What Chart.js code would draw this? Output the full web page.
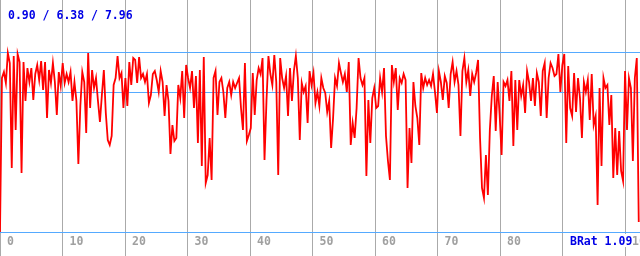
<!DOCTYPE html>
<html>
<head>
<meta charset="utf-8">
<script src="https://cdn.jsdelivr.net/npm/chart.js@4.4.1/dist/chart.umd.min.js"></script>
<style>
  html, body { margin: 0; padding: 0; background: #fff; }
  #wrap { width: 640px; height: 256px; }
</style>
</head>
<body>
<div id="wrap"><canvas id="ratioChart" width="640" height="256"></canvas></div>
<script>
// readings, left to right
const segA = [0, 7.7, 8.0, 7.45, 8.95, 8.45, 3.2, 8.8, 5.1, 8.9, 8.5, 2.95, 8.5, 6.55, 8.2, 7.5,
  8.2, 6.6, 7.9, 8.35, 7.6, 8.55, 7.1, 8.5, 5.7, 8.1, 7.45, 8.45, 7.5, 5.85, 8.0, 7.3,
  8.45, 7.45, 7.9, 7.5, 8.0, 6.55, 7.5, 6.55, 3.4, 6.3, 8.0, 7.5, 4.95, 8.95, 6.2, 8.1,
  7.2, 7.7, 6.55, 5.5, 6.85, 8.1, 5.95, 4.6, 4.35, 4.8, 7.35, 7.7, 8.8, 7.7, 7.95, 6.2];
const segB = [7.7, 6.3, 8.5, 7.35, 8.7, 8.6, 7.45, 8.75, 7.7, 7.9, 7.5, 7.9, 6.45, 6.85, 7.9, 8.05,
  7.6, 7.0, 8.05, 7.5, 5.8, 7.35, 6.55, 3.9, 5.35, 4.55, 4.7, 7.35, 6.7, 8.05, 5.7, 8.35,
  7.7, 7.2, 8.05, 6.2, 7.8, 4.45, 8.1, 3.3, 8.75, 2.45, 2.85, 4.7, 2.6, 7.7, 8.05, 5.85,
  7.5, 7.7, 7.0, 5.7, 7.2, 7.5, 6.85, 7.5, 7.2, 7.45, 7.7, 6.2, 5.1, 8.45, 4.55, 4.85];
const segC = [5.2, 7.95, 5.85, 7.6, 8.2, 7.9, 8.7, 3.6, 6.55, 8.8, 7.9, 7.35, 8.85, 7.5, 2.85, 8.7,
  7.7, 7.2, 7.8, 5.8, 8.2, 6.55, 8.05, 8.8, 7.7, 4.6, 7.45, 7.0, 7.3, 5.45, 8.05, 7.35,
  7.95, 6.45, 7.0, 6.3, 7.7, 7.2, 6.95, 6.0, 6.55, 4.2, 5.7, 7.7, 7.3, 8.45, 7.95, 7.5,
  7.9, 7.0, 8.5, 4.35, 5.45, 4.7, 6.2, 8.7, 7.7, 7.35, 7.7, 2.8, 6.6, 4.45, 6.7, 7.2, 6.2];
const segD = [6.3, 7.7, 7.0, 8.2, 4.8, 3.55, 2.6, 8.35, 7.5, 8.2, 6.1, 7.7, 7.45, 7.9, 7.6, 2.2,
  5.2, 3.45, 7.5, 6.3, 5.7, 4.35, 7.95, 7.2, 7.7, 7.35, 7.6, 7.3, 7.9, 7.0, 5.95, 8.05,
  7.5, 6.6, 7.8, 7.45, 6.2, 7.9, 8.5, 7.5, 8.05, 7.35, 4.8, 8.05, 8.7, 7.5, 8.1, 6.8,
  7.9, 7.5, 7.95, 8.6, 4.7, 2.2, 1.7, 3.85, 1.85, 5.1, 6.8, 7.8, 5.05, 7.5, 5.85, 3.85,
  7.5, 7.3, 7.6];
const segE = [6.55, 8.05, 4.3, 7.6, 5.1, 7.6, 6.8, 7.35, 5.95, 8.05, 7.5, 6.55, 7.7, 6.3, 7.95, 7.5,
  5.8, 8.05, 8.45, 5.7, 7.7, 8.45, 8.2, 7.8, 7.9, 8.9, 7.0, 8.35, 8.9, 4.45, 8.3, 6.2,
  5.8, 7.95, 6.0, 7.7, 6.7, 4.7, 7.5, 7.0, 7.6, 5.6, 7.9, 5.35, 5.8, 1.35, 7.2, 3.3,
  7.7, 7.2, 7.35, 5.35, 6.85, 2.7, 5.2, 2.85, 5.05, 3.05, 2.55, 8.05, 5.1, 7.7, 7.2, 3.55,
  7.7, 8.7, 0.5];
const ratioValues = segA.concat(segB, segC, segD, segE);

const xTicks = [0, 10, 20, 30, 40, 50, 60, 70, 80, 90, 100];
const levelLines = [0, 7, 9];
const headline = '0.90 / 6.38 / 7.96';
const footnote = 'BRat 1.09';

const xMin = 0, xMax = 102.4, yMin = -1.2, yMax = 11.6;
const xStep = 102.2 / (ratioValues.length - 1);
const points = ratioValues.map((v, i) => ({ x: i * xStep, y: v }));

const monoFont = 'bold 11.5px "DejaVu Sans Mono", "Liberation Mono", monospace';

const textPlugin = {
    id: 'ratioText',
    afterDraw(chart) {
        const ctx = chart.ctx;
        const xs = chart.scales.x;
        ctx.save();
        ctx.font = monoFont;
        ctx.textBaseline = 'alphabetic';
        ctx.textAlign = 'left';
        ctx.fillStyle = '#a0a0a0';
        xTicks.forEach(t => {
            ctx.fillText(String(t), xs.getPixelForValue(t) + 7, 245);
        });
        ctx.fillStyle = '#0000e6';
        ctx.fillText(headline, 8, 19);
        const w = ctx.measureText(footnote).width;
        ctx.fillStyle = '#ffffff';
        ctx.fillRect(569, 234, w + 1, 13);
        ctx.fillStyle = '#0000e6';
        ctx.fillText(footnote, 570, 245);
        ctx.restore();
    }
};

new Chart(document.getElementById('ratioChart').getContext('2d'), {
    type: 'line',
    data: {
        datasets: [{
            data: points,
            borderColor: '#ff0000',
            borderWidth: 1.8,
            pointRadius: 0,
            tension: 0,
            fill: false
        }]
    },
    options: {
        responsive: false,
        animation: false,
        layout: { padding: 0 },
        plugins: { legend: { display: false }, tooltip: { enabled: false } },
        scales: {
            x: {
                type: 'linear',
                min: xMin,
                max: xMax,
                z: 1,
                afterBuildTicks: s => { s.ticks = xTicks.map(v => ({ value: v })); },
                ticks: { display: false },
                grid: { color: '#aaaaaa', lineWidth: 1, drawTicks: false },
                border: { display: false }
            },
            y: {
                min: yMin,
                max: yMax,
                z: 1,
                afterBuildTicks: s => { s.ticks = levelLines.map(v => ({ value: v })); },
                ticks: { display: false },
                grid: { color: '#55aaff', lineWidth: 1, drawTicks: false },
                border: { display: false }
            }
        }
    },
    plugins: [textPlugin]
});
</script>
</body>
</html>
